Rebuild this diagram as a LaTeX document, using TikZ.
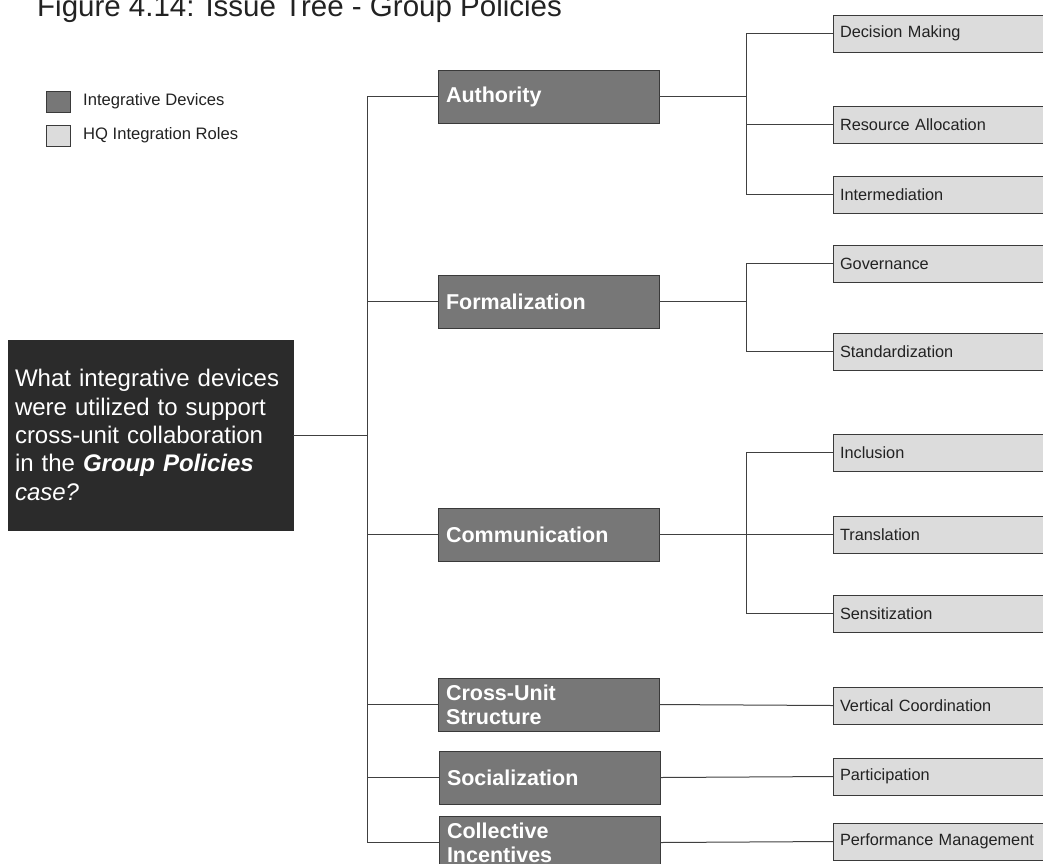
\documentclass[tikz,border=0pt]{standalone}
\usepackage{fontspec}
\setmainfont{Liberation Sans}
\definecolor{devicefill}{HTML}{777777}
\definecolor{rolefill}{HTML}{DCDCDC}
\definecolor{boxedge}{HTML}{3A3A3A}
\definecolor{linegray}{HTML}{404040}
\definecolor{rootfill}{HTML}{2B2B2B}
\definecolor{textgray}{HTML}{222222}
\begin{document}
\begin{tikzpicture}[x=1pt,y=-1pt,
  conn/.style={draw=linegray,line width=1pt},
  device/.style={draw=boxedge,fill=devicefill,line width=1pt,text=white,
    font=\fontsize{21.5}{24}\selectfont\bfseries,text width=205pt,align=left,
    inner xsep=8pt,inner ysep=0pt,minimum height=53pt,anchor=north west,outer sep=0pt},
  role/.style={draw=boxedge,fill=rolefill,line width=1pt,text=textgray,
    font=\fontsize{16.3}{19}\selectfont,text width=240pt,align=left,
    inner xsep=7pt,inner ysep=0pt,minimum height=37pt,anchor=north west,outer sep=0pt},
  legendbox/.style={draw=boxedge,line width=1pt,minimum width=24pt,minimum height=21pt,inner sep=0pt},
  legendtext/.style={anchor=west,inner sep=3pt,text=textgray,font=\fontsize{16.6}{19}\selectfont},
]
\useasboundingbox (0,0) rectangle (1043,863);
\clip (0,0) rectangle (1043,863);

% title
\node[anchor=base west,inner sep=0pt,text=textgray,font=\fontsize{29.5}{34}\selectfont] (title) at (37,16)
  {Figure 4.14: Issue Tree - Group Policies};

% legend
\node[legendbox,fill=devicefill] (lgdev) at (58,101.5) {};
\node[legendtext] (lgdevtext) at (80,101.5) {Integrative Devices};
\node[legendbox,fill=rolefill] (lgrole) at (58,135.5) {};
\node[legendtext] (lgroletext) at (80,135.5) {HQ Integration Roles};

% root question
\node[draw=rootfill,fill=rootfill,text=white,anchor=north west,outer sep=0pt,
  minimum width=285pt,minimum height=190pt,text width=271pt,inner xsep=7pt,align=left,
  font=\fontsize{24}{28.4}\selectfont] (root) at (8,340)
  {What integrative devices\\were utilized to support\\cross-unit collaboration\\in the \textbf{\textit{Group Policies}}\\\textit{case?}};

% integrative devices
\node[device] (auth)  at (438,70)  {Authority};
\node[device] (form)  at (438,275) {Formalization};
\node[device] (comm)  at (438,508) {Communication};
\node[device] (cross) at (438,678) {Cross-Unit\\Structure};
\node[device] (soc)   at (439,751) {Socialization};
\node[device] (coll)  at (439,816) {Collective\\Incentives};

% HQ integration roles
\node[role] (dm)  at (833,15)  {Decision Making};
\node[role] (ra)  at (833,106) {Resource Allocation};
\node[role] (im)  at (833,176) {Intermediation};
\node[role] (gov) at (833,245) {Governance};
\node[role] (std) at (833,333) {Standardization};
\node[role] (inc) at (833,434) {Inclusion};
\node[role] (tra) at (833,516) {Translation};
\node[role] (sen) at (833,595) {Sensitization};
\node[role] (vc)  at (833,687) {Vertical Coordination};
\node[role] (par) at (833,758) {Participation};
\node[role] (pm)  at (833,823) {Performance Management};

% trunk and branch columns
\coordinate (tx) at (367,0);
\coordinate (bx) at (746,0);

% root to devices
\draw[conn] (root.east) -- (root.east -| tx);
\draw[conn] (auth.west -| tx) -- (coll.west -| tx);
\foreach \d in {auth,form,comm,cross,soc,coll}
  \draw[conn] (\d.west -| tx) -- (\d.west);

% Authority
\draw[conn] (auth.east) -- (auth.east -| bx);
\draw[conn] (dm.west -| bx) -- (im.west -| bx);
\foreach \r in {dm,ra,im} \draw[conn] (\r.west -| bx) -- (\r.west);

% Formalization
\draw[conn] (form.east) -- (form.east -| bx);
\draw[conn] (gov.west -| bx) -- (std.west -| bx);
\foreach \r in {gov,std} \draw[conn] (\r.west -| bx) -- (\r.west);

% Communication
\draw[conn] (comm.east) -- (comm.east -| bx);
\draw[conn] (inc.west -| bx) -- (sen.west -| bx);
\foreach \r in {inc,tra,sen} \draw[conn] (\r.west -| bx) -- (\r.west);

% single-role devices
\draw[conn] (cross.east) -- (vc.west);
\draw[conn] (soc.east) -- (par.west);
\draw[conn] (coll.east) -- (pm.west);
\end{tikzpicture}
\end{document}
